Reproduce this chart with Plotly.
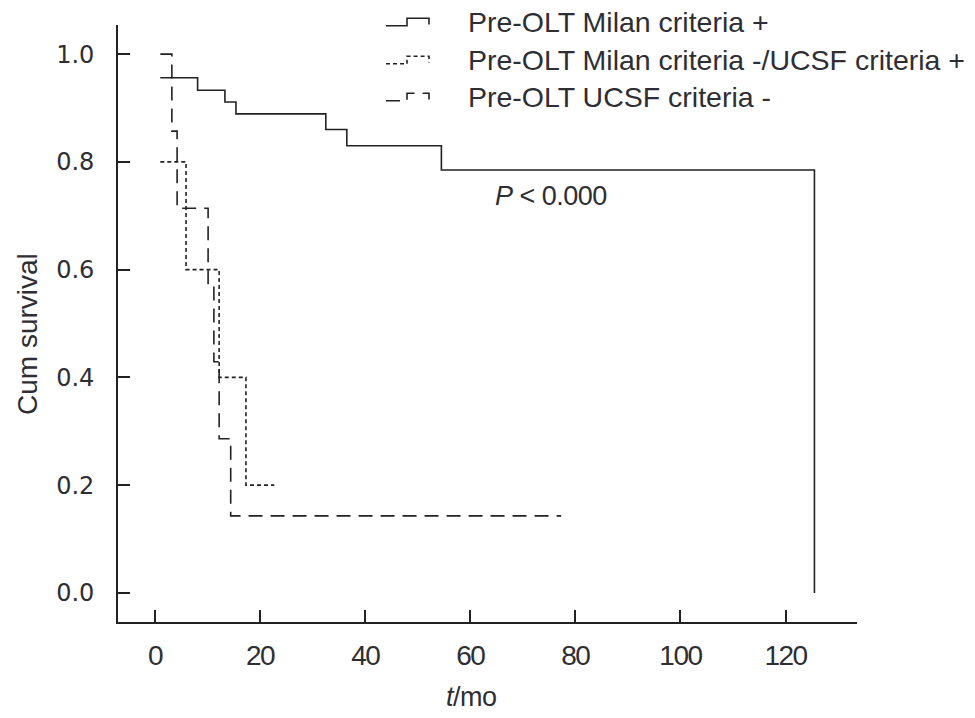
import plotly.graph_objects as go

# ---------------- data ----------------
milan_pos_t = [1.0, 8.1, 13.3, 15.4, 32.5, 36.5, 54.5, 125.5]
milan_pos_s = [0.956, 0.933, 0.911, 0.889, 0.860, 0.830, 0.785, 0.0]
milan_pos_end = 125.5

ucsf_pos_t = [1.0, 5.9, 12.2, 17.3]
ucsf_pos_s = [0.8, 0.6, 0.4, 0.2]
ucsf_pos_end = 22.7

ucsf_neg_t = [1.0, 3.2, 4.2, 10.1, 11.2, 12.2, 14.4]
ucsf_neg_s = [1.0, 0.857, 0.714, 0.571, 0.429, 0.286, 0.143]
ucsf_neg_end = 77.3

legend_labels = ["Pre-OLT Milan criteria +",
                 "Pre-OLT Milan criteria -/UCSF criteria +",
                 "Pre-OLT UCSF criteria -"]
x_ticks = [0, 20, 40, 60, 80, 100, 120]
y_ticks = [0.0, 0.2, 0.4, 0.6, 0.8, 1.0]
p_text = "<i>P</i> < 0.000"

# ---------------- styling ----------------
W, H = 975, 718
ML, MR, MT, MB = 118, 118, 25, 96
LINE = "#222222"
TXT = "#2e2e33"
SANS = "Liberation Sans, Arial, sans-serif"
dashes = ["solid", "4px,3px", "14px,8px"]

def px_x(px):
    return (px - ML) / (W - ML - MR)

def px_y(py):
    return (H - MB - py) / (H - MT - MB)

def squeeze(s, ls):
    return f'<span style="letter-spacing:{ls}px">{s}</span>'

fig = go.Figure()
series = [(milan_pos_t, milan_pos_s, milan_pos_end),
          (ucsf_pos_t, ucsf_pos_s, ucsf_pos_end),
          (ucsf_neg_t, ucsf_neg_s, ucsf_neg_end)]
for (t, s, end), name, dash in zip(series, legend_labels, dashes):
    fig.add_trace(go.Scatter(
        x=list(t) + [end], y=list(s) + [s[-1]],
        mode="lines", line=dict(shape="hv", color=LINE, width=1.6, dash=dash),
        name=name, showlegend=False, hoverinfo="skip"))

# custom legend: step icons + labels
shapes = []
annotations = []
centers = [22, 60, 97]
for cy, name, dash in zip(centers, legend_labels, dashes):
    lo, hi = cy + 3.7, cy - 3.7
    path = (f"M{px_x(386)},{px_y(lo)} L{px_x(407)},{px_y(lo)} "
            f"L{px_x(407)},{px_y(hi)} L{px_x(429)},{px_y(hi)} L{px_x(429)},{px_y(cy + 2.5)}")
    shapes.append(dict(type="path", path=path, xref="paper", yref="paper",
                       line=dict(color=LINE, width=1.6, dash=dash)))
    annotations.append(dict(text=name, x=px_x(466), y=px_y(cy),
                            xref="paper", yref="paper",
                            xanchor="left", yanchor="middle", showarrow=False,
                            font=dict(family=SANS, size=28.5, color=TXT)))

annotations.append(dict(text=squeeze(p_text, -0.5), x=75.4, y=0.737, xref="x", yref="y",
                        xanchor="center", yanchor="middle", showarrow=False,
                        font=dict(family=SANS, size=27, color=TXT)))
annotations.append(dict(text="Cum survival", x=px_x(27), y=px_y(334),
                        xref="paper", yref="paper",
                        textangle=-90, xanchor="center", yanchor="middle", showarrow=False,
                        font=dict(family=SANS, size=28, color=TXT)))
annotations.append(dict(text=squeeze("<i>t</i>/mo", -0.5), x=px_x(471), y=px_y(697),
                        xref="paper", yref="paper",
                        xanchor="center", yanchor="middle", showarrow=False,
                        font=dict(family=SANS, size=27, color=TXT)))

fig.update_layout(
    width=W, height=H,
    margin=dict(l=ML, r=MR, t=MT, b=MB),
    paper_bgcolor="white", plot_bgcolor="white",
    shapes=shapes, annotations=annotations,
    xaxis=dict(range=[-7.05, 133.6], tickvals=x_ticks,
               ticktext=[squeeze(str(v), -1.5) for v in x_ticks],
               showgrid=False, zeroline=False, showline=True, linecolor=LINE, linewidth=1.6,
               ticks="inside", ticklen=12, tickwidth=1.6, tickcolor=LINE,
               ticklabelstandoff=8,
               tickfont=dict(family=SANS, size=28, color=TXT)),
    yaxis=dict(range=[-0.054, 1.054], tickvals=y_ticks, ticktext=[f"{v:.1f}" for v in y_ticks],
               showgrid=False, zeroline=False, showline=True, linecolor=LINE, linewidth=1.6,
               ticks="inside", ticklen=12, tickwidth=1.6, tickcolor=LINE,
               ticklabelstandoff=17,
               tickfont=dict(family="DejaVu Sans, Verdana, sans-serif", size=24, color=TXT)),
)

fig.write_html("out.html")
